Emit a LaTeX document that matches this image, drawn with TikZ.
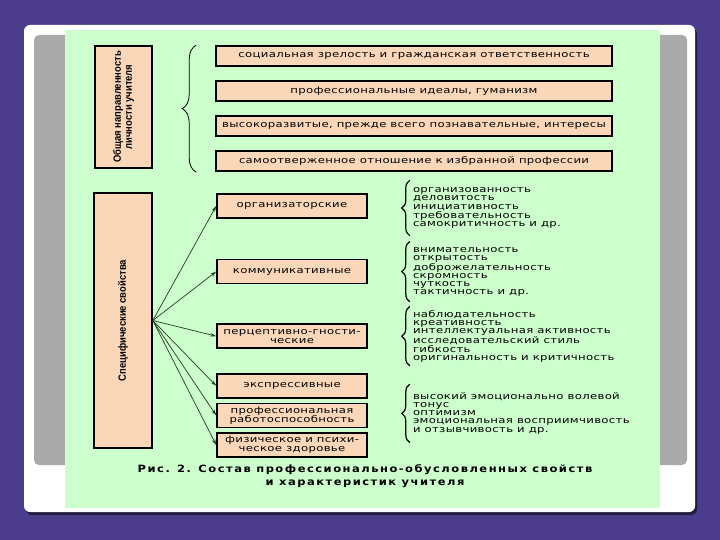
\documentclass[tikz,border=0pt]{standalone}
\usepackage{fontspec}
\setmainfont{DejaVu Sans}
\newfontfamily\widefont[FakeStretch=1.3, LetterSpace=3.5]{DejaVu Sans}
\newfontfamily\capfont[FakeStretch=1.15, LetterSpace=15]{DejaVu Sans}
\newfontfamily\narrowfont[FakeStretch=0.9]{Liberation Sans}
\usepackage{tikz}
\usetikzlibrary{arrows.meta,positioning,decorations.pathreplacing}
\definecolor{slidebg}{RGB}{75,61,139}
\definecolor{panelgreen}{RGB}{204,255,204}
\definecolor{panelgray}{RGB}{170,170,170}
\definecolor{peach}{RGB}{250,215,185}
\definecolor{arrowgreen}{RGB}{35,60,35}

\begin{document}
\begin{tikzpicture}[x=1pt, y=-1pt,
  node distance=13.5pt,
  box/.style={draw=black, line width=1.6pt, fill=peach, inner sep=1pt,
    align=center, font=\widefont\fontsize{9}{9}\selectfont},
  topbox/.style={box, minimum width=396pt, minimum height=20pt},
  kindbox/.style={box, minimum width=150pt, minimum height=24pt},
  sidebox/.style={box, rotate=90, minimum height=57pt,
    font=\narrowfont\bfseries\fontsize{10.5}{11}\selectfont},
  lst/.style={align=left, inner xsep=3pt, inner ysep=0pt,
    font=\widefont\fontsize{9}{8.1}\selectfont},
  arr/.style={-{Stealth[length=6pt, width=3.5pt]}, line width=0.7pt, arrowgreen},
  brc/.style={decorate, decoration={brace, amplitude=#1}, line width=1.2pt, black}
]
\useasboundingbox (0,0) rectangle (720,540);
\fill[slidebg] (0,0) rectangle (720,540);
\fill[black!55!slidebg, rounded corners=6pt] (26,28) rectangle (697,515);
\fill[white, rounded corners=6pt] (24,25) rectangle (695,512);
\fill[panelgray, rounded corners=5pt] (34,35) rectangle (687,465);
\fill[panelgreen] (65,30) rectangle (660,508);

\node[sidebox, minimum width=122pt] (general) at (123.5,107) {Общая направленность\\личности учителя};
\node[topbox] (maturity) at (414,56) {социальная зрелость и гражданская ответственность};
\node[topbox, below=of maturity] (ideals) {профессиональные идеалы, гуманизм};
\node[topbox, below=of ideals] (interests) {высокоразвитые, прежде всего познавательные, интересы};
\node[topbox, below=of interests] (devotion) {самоотверженное отношение к избранной профессии};

\node[sidebox, minimum width=255pt, minimum height=58pt] (specific) at (123,320.5) {Специфические свойства};
\node[kindbox] (org) at (292,206) {организаторские};
\node[kindbox, below=40pt of org] (comm) {коммуникативные};
\node[kindbox, below=39pt of comm] (percept) {перцептивно-гности-\\ческие};
\node[kindbox, below=24pt of percept] (express) {экспрессивные};
\node[kindbox, below=4pt of express] (work) {профессиональная\\работоспособность};
\node[kindbox, below=4pt of work] (health) {физическое и психи-\\ческое здоровье};

\node[lst, minimum height=55pt, right=42pt of org, yshift=-2pt] (orgtraits) {организованность\\деловитость\\инициативность\\требовательность\\самокритичность и др.};
\node[lst, minimum height=60pt, right=42pt of comm] (commtraits) {внимательность\\открытость\\доброжелательность\\скромность\\чуткость\\тактичность и др.};
\node[lst, minimum height=59pt, right=42pt of percept] (perctraits) {наблюдательность\\креативность\\интеллектуальная активность\\исследовательский стиль\\гибкость\\оригинальность и критичность};
\node[lst, minimum height=58pt, right=42pt of work, yshift=2pt] (worktraits) {высокий эмоционально волевой\\тонус\\оптимизм\\эмоциональная восприимчивость\\и отзывчивость и др.};

\node[font=\capfont\bfseries\fontsize{10}{13}\selectfont, align=center] (caption) at (365,476) {Рис. 2. Состав профессионально-обусловленных свойств\\и характеристик учителя};

\draw[brc=14pt, line width=0.8pt] ([xshift=-19pt]devotion.south west) -- ([xshift=-19pt]maturity.north west);
\draw[brc=8pt] (orgtraits.south west) -- (orgtraits.north west);
\draw[brc=8pt] (commtraits.south west) -- (commtraits.north west);
\draw[brc=8pt] (perctraits.south west) -- (perctraits.north west);
\draw[brc=8pt] (worktraits.south west) -- (worktraits.north west);

\draw[arr] (specific.south) -- (org.west);
\draw[arr] (specific.south) -- (comm.west);
\draw[arr] (specific.south) -- (percept.west);
\draw[arr] (specific.south) -- (express.west);
\draw[arr] (specific.south) -- (work.west);
\draw[arr] (specific.south) -- (health.west);
\end{tikzpicture}
\end{document}
